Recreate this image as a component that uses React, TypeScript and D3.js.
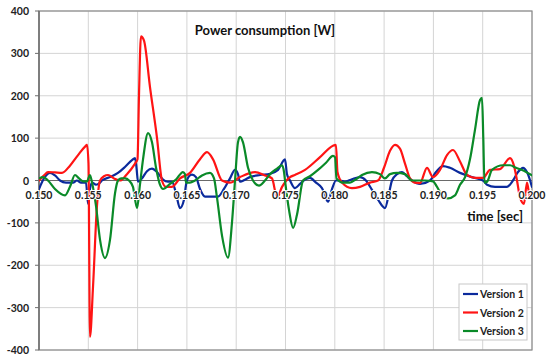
import React from 'react';
import * as d3 from 'd3';

// time in ms, power in W
const timeTicks = [150, 155, 160, 165, 170, 175, 180, 185, 190, 195, 200];
const powerTicks = [-400, -300, -200, -100, 0, 100, 200, 300, 400];
const seriesNames = ['Version 1', 'Version 2', 'Version 3'];
const seriesColors = ['#0b2a9c', '#ff1414', '#0a8a28'];

const version1: [number, number][] = [
  [150.0, -20], [150.51, 5], [151.12, 18], [151.62, 12], [152.13, 0], [152.74, -5],
  [153.45, -5], [153.85, 0], [154.26, -5], [154.77, -5], [154.97, -55], [155.17, -20],
  [155.38, -5], [155.78, -10], [156.19, -5], [156.39, 0], [157.2, 8], [158.01, 18],
  [158.72, 32], [159.43, 48], [159.74, 53], [159.89, 30], [160.04, -3], [160.45, 5],
  [160.95, 22], [161.46, 28], [161.97, 20], [162.58, 2], [163.08, -3], [163.49, -3],
  [163.89, -30], [164.3, -65], [164.71, -45], [164.91, -10], [165.21, 10], [165.52, 14],
  [165.92, 8], [166.33, -20], [166.84, -38], [167.55, -38], [168.15, -38], [168.76, -20],
  [169.37, 5], [169.88, 25], [170.18, 15], [170.39, -3], [170.89, 2], [171.4, 8],
  [172.41, 13], [173.43, 16], [174.24, 25], [174.95, 50], [175.15, 15], [175.46, 0],
  [175.96, -18], [176.47, -8], [176.98, 2], [177.48, 6], [178.09, -5], [178.7, -18],
  [179.31, -50], [179.72, -20], [180.12, 0], [180.53, 0], [181.03, -3], [181.74, 3],
  [182.56, 8], [183.16, 0], [183.77, -22], [184.38, -45], [185.09, -65], [185.5, -30],
  [185.8, 0], [186.31, 15], [186.82, 20], [187.32, 10], [187.83, 0], [188.64, -8],
  [189.66, 0], [190.26, 20], [190.97, 34], [191.68, 30], [192.7, 18], [193.91, 8],
  [195.03, 0], [195.44, -10], [196.25, -15], [197.46, -15], [198.07, 0], [198.58, 20],
  [199.09, 30], [199.49, 20], [200.0, -15],
];

const version2: [number, number][] = [
  [150.0, 0], [150.51, 12], [150.91, 20], [151.62, 19], [152.33, 18], [153.14, 35],
  [153.96, 60], [154.67, 80], [154.87, 84], [155.02, 40], [155.17, -369], [155.48, -250],
  [155.88, -60], [156.19, 0], [156.59, 10], [157.0, 13], [157.61, 5], [158.22, 0],
  [158.92, 15], [159.74, 40], [159.99, 50], [160.14, 200], [160.34, 340], [160.65, 330],
  [161.26, 220], [161.97, 100], [162.47, 0], [162.88, -15], [163.49, -15], [164.3, 5],
  [165.31, 18], [166.33, 50], [167.04, 67], [167.65, 50], [168.56, 0], [169.37, -5],
  [170.39, 8], [171.91, 20], [172.92, 12], [173.63, 5], [174.14, -40], [174.65, -15],
  [175.46, 8], [175.96, 13], [176.98, 25], [178.5, 55], [179.82, 82], [180.12, 84],
  [180.27, 20], [180.73, -5], [181.74, -18], [182.56, -15], [183.57, -5], [184.38, 0],
  [184.99, 30], [185.6, 70], [186.11, 84], [186.61, 75], [187.12, 40], [187.63, 5],
  [188.13, -5], [188.64, -6], [189.35, 30], [189.96, 8], [190.67, 25], [191.38, 60],
  [191.99, 72], [192.7, 45], [193.41, 13], [194.22, 6], [195.03, 6], [195.74, 25],
  [196.75, 27], [197.77, 53], [198.17, 35], [198.48, 0], [198.78, -40], [199.19, -55],
  [199.49, -5], [199.8, -40], [200.0, -30],
];

const version3: [number, number][] = [
  [150.0, 5], [150.41, 8], [150.91, 0], [151.62, -20], [152.64, -35], [153.14, -15],
  [153.65, 13], [154.06, 5], [154.46, -2], [154.87, -2], [155.17, 13], [155.38, -5],
  [155.78, -60], [156.19, -140], [156.69, -183], [157.2, -140], [157.71, -30], [158.01, 0],
  [158.32, 5], [158.72, 5], [159.13, 0], [159.53, -15], [159.94, -65], [160.24, -10],
  [160.55, 50], [161.06, 112], [161.46, 90], [161.87, 30], [162.27, -10], [162.58, -20],
  [163.29, -8], [163.89, 2], [164.6, 20], [164.81, 15], [164.91, -5], [165.31, -5],
  [165.82, 0], [166.53, 12], [167.34, 18], [167.75, 5], [168.05, -40], [168.56, -130],
  [169.17, -182], [169.57, -100], [169.88, 0], [170.18, 90], [170.39, 103], [170.69, 90],
  [171.2, 30], [171.7, 0], [172.31, -12], [172.92, 0], [173.43, 15], [174.14, 28],
  [174.65, 36], [174.85, 20], [174.95, 0], [175.36, -70], [175.77, -112], [176.17, -80],
  [176.78, 0], [177.48, 10], [178.3, 25], [179.11, 42], [179.82, 58], [180.02, 55],
  [180.17, 5], [180.83, -5], [181.54, -5], [182.15, 3], [182.76, 13], [183.77, 20],
  [184.58, 15], [185.09, 5], [185.6, 15], [186.31, 18], [187.12, 15], [187.83, 0],
  [189.15, 0], [189.96, -2], [190.37, -15], [190.97, -38], [191.48, -42], [192.19, -35],
  [192.7, -10], [193.21, 8], [193.71, 50], [194.22, 120], [194.73, 190], [194.93, 195],
  [195.06, 100], [195.18, -5], [195.44, -3], [195.94, 25], [197.06, 36], [197.77, 36],
  [198.38, 30], [198.99, 25], [200.0, 12],
];

const allSeries = [version1, version2, version3];

const font = "Lato, 'Open Sans', sans-serif";

export default function App() {
  const W = 550;
  const H = 363;
  const margin = { top: 11, right: 18, bottom: 13, left: 39 };

  const x = d3.scaleLinear().domain([150, 200]).range([margin.left, W - margin.right]);
  const y = d3.scaleLinear().domain([-400, 400]).range([H - margin.bottom, margin.top]);

  const line = d3.line<[number, number]>()
    .x(d => x(d[0]))
    .y(d => y(d[1]))
    .curve(d3.curveMonotoneX);

  const x0 = x.range()[0];
  const x1 = x.range()[1];
  const yTop = y.range()[1];
  const yBot = y.range()[0];

  return (
    <svg width={W} height={H} style={{ position: 'absolute', left: 0, top: 0, background: '#fff' }}>
      <defs>
        <clipPath id="plot">
          <rect x={x0} y={yTop} width={x1 - x0} height={yBot - yTop} />
        </clipPath>
      </defs>

      {/* grid */}
      {timeTicks.map(t => (
        <line key={'v' + t} x1={x(t)} x2={x(t)} y1={yTop} y2={yBot} stroke="#d4d4d4" strokeWidth={1} />
      ))}
      {powerTicks.map(p => (
        <line key={'h' + p} x1={x0} x2={x1} y1={y(p)} y2={y(p)} stroke="#d4d4d4" strokeWidth={1} />
      ))}

      {/* frame */}
      <rect x={x0} y={yTop} width={x1 - x0} height={yBot - yTop} fill="none" stroke="#8c8c8c" strokeWidth={1.2} />
      <line x1={x0} x2={x0} y1={yTop} y2={yBot} stroke="#6e6e6e" strokeWidth={1.5} />
      {powerTicks.map(p => (
        <line key={'t' + p} x1={x0 - 4} x2={x0} y1={y(p)} y2={y(p)} stroke="#6e6e6e" strokeWidth={1} />
      ))}
      <line x1={x0} x2={x1} y1={y(0)} y2={y(0)} stroke="#6a6a6a" strokeWidth={1.2} />

      {/* series */}
      <g clipPath="url(#plot)">
        {allSeries.map((s, i) => (
          <path key={i} d={line(s) ?? ''} fill="none" stroke={seriesColors[i]} strokeWidth={2.2}
            strokeLinejoin="round" strokeLinecap="round" />
        ))}
      </g>

      {/* tick labels */}
      <g fontFamily={font} fontWeight="bold" fontSize={10.5} fill="#222">
        {powerTicks.map(p => (
          <text key={'yl' + p} x={29} y={y(p)} textAnchor="end" dominantBaseline="central">{p}</text>
        ))}
        {timeTicks.map(t => (
          <text key={'xl' + t} x={x(t)} y={y(0) + 14} textAnchor="middle" dominantBaseline="central"
            stroke="#fff" strokeWidth={2} paintOrder="stroke">{(t / 1000).toFixed(3)}</text>
        ))}
      </g>

      <text x={265} y={30} textAnchor="middle" dominantBaseline="central" fontFamily={font}
        fontWeight="bold" fontSize={13} fill="#111">Power consumption [W]</text>
      <text x={523} y={216} textAnchor="end" dominantBaseline="central" fontFamily={font}
        fontWeight="bold" fontSize={13} fill="#111">time [sec]</text>

      {/* legend */}
      <rect x={459} y={284} width={68} height={56} fill="#fff" stroke="#c8c8c8" strokeWidth={1} />
      {seriesNames.map((n, i) => (
        <g key={n}>
          <line x1={463} x2={478} y1={294 + i * 18.5} y2={294 + i * 18.5} stroke={seriesColors[i]} strokeWidth={2.2} />
          <text x={480} y={294 + i * 18.5} dominantBaseline="central" fontFamily={font}
            fontWeight="bold" fontSize={10.5} fill="#222">{n}</text>
        </g>
      ))}
    </svg>
  );
}
